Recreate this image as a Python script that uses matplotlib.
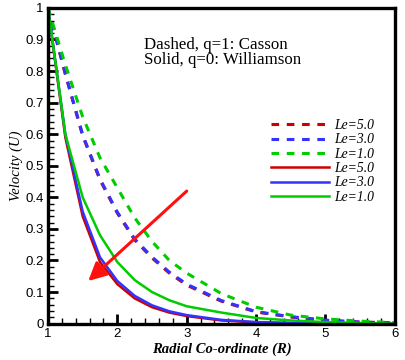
import matplotlib
matplotlib.use("Agg")
from matplotlib import pyplot as plt
from matplotlib.ticker import MultipleLocator

# radial co-ordinate samples
r = [1.0, 1.25, 1.5, 1.75, 2.0, 2.25, 2.5, 2.75, 3.0, 3.5, 4.0, 4.5, 5.0, 5.5, 6.0]

# dashed, q=1 (Casson)
casson_le5 = [1.0, 0.79, 0.595, 0.455, 0.35, 0.265, 0.208, 0.16, 0.122, 0.071, 0.037, 0.021, 0.010, 0.005, 0.002]
casson_le3 = [1.0, 0.792, 0.598, 0.458, 0.353, 0.268, 0.211, 0.163, 0.125, 0.073, 0.038, 0.022, 0.011, 0.005, 0.002]
casson_le1 = [1.0, 0.82, 0.655, 0.525, 0.43, 0.335, 0.26, 0.20, 0.16, 0.095, 0.052, 0.027, 0.015, 0.008, 0.003]

# solid, q=0 (Williamson)
will_le5 = [1.0, 0.59, 0.34, 0.195, 0.125, 0.08, 0.052, 0.035, 0.024, 0.01, 0.004, 0.002, 0.001, 0.0, 0.0]
will_le3 = [1.0, 0.60, 0.355, 0.21, 0.135, 0.088, 0.058, 0.039, 0.027, 0.012, 0.005, 0.002, 0.001, 0.0, 0.0]
will_le1 = [1.0, 0.60, 0.40, 0.28, 0.195, 0.138, 0.10, 0.074, 0.055, 0.035, 0.018, 0.01, 0.005, 0.002, 0.0]

labels = ["Le=5.0", "Le=3.0", "Le=1.0"]
colors = ["#cc0000", "#3333ff", "#00cc00"]

fig = plt.figure(figsize=(4.05, 3.6), dpi=100)
ax = fig.add_axes([0.1185, 0.101, 0.8565, 0.877])

for ys, c, lab in zip([casson_le5, casson_le3, casson_le1], colors, labels):
    ax.plot(r, ys, color=c, lw=2.2, ls=(0, (2.5, 2.5)), label=lab)
for ys, c, lab in zip([will_le5, will_le3, will_le1], colors, labels):
    ax.plot(r, ys, color=c, lw=1.8, label=lab)

ax.annotate("", xy=(1.58, 0.135), xytext=(3.0, 0.42),
            arrowprops=dict(arrowstyle="-|>,head_length=1.1,head_width=0.55",
                            color="#ff1010", lw=2.2, shrinkA=0, shrinkB=0))

ax.text(2.38, 0.884, "Dashed, q=1: Casson", family="Liberation Serif", fontsize=12.2,
        va="center")
ax.text(2.38, 0.836, "Solid, q=0: Williamson", family="Liberation Serif", fontsize=12.2,
        va="center")

leg = ax.legend(loc="upper left", bbox_to_anchor=(0.622, 0.67), frameon=False,
                handlelength=4.3, labelspacing=0.1, borderpad=0, handletextpad=0.4,
                prop=dict(family="Liberation Serif", style="italic", size=9.8))

ax.set_xlim(1, 6)
ax.set_ylim(0, 1)
ax.xaxis.set_major_locator(MultipleLocator(1))
ax.xaxis.set_minor_locator(MultipleLocator(0.2))
ax.yaxis.set_minor_locator(MultipleLocator(0.02))
ax.set_yticks([0, 0.1, 0.2, 0.3, 0.4, 0.5, 0.6, 0.7, 0.8, 0.9, 1.0])
ax.set_yticklabels(["0", "0.1", "0.2", "0.3", "0.4", "0.5", "0.6", "0.7", "0.8", "0.9", "1"])
ax.tick_params(which="major", direction="in", length=7, width=2, labelsize=9.5, pad=3)
ax.tick_params(which="minor", direction="in", length=4, width=1)
for lbl in ax.get_xticklabels() + ax.get_yticklabels():
    lbl.set_family("Liberation Sans")
for s in ax.spines.values():
    s.set_linewidth(2.4)

ax.set_xlabel("Radial Co-ordinate (R)", family="Liberation Serif", style="italic",
              weight="bold", fontsize=10.5, labelpad=2)
ax.set_ylabel("Velocity (U)", family="Liberation Serif", style="italic",
              fontsize=10.5, labelpad=2)

fig.savefig("out.png", dpi=100)
